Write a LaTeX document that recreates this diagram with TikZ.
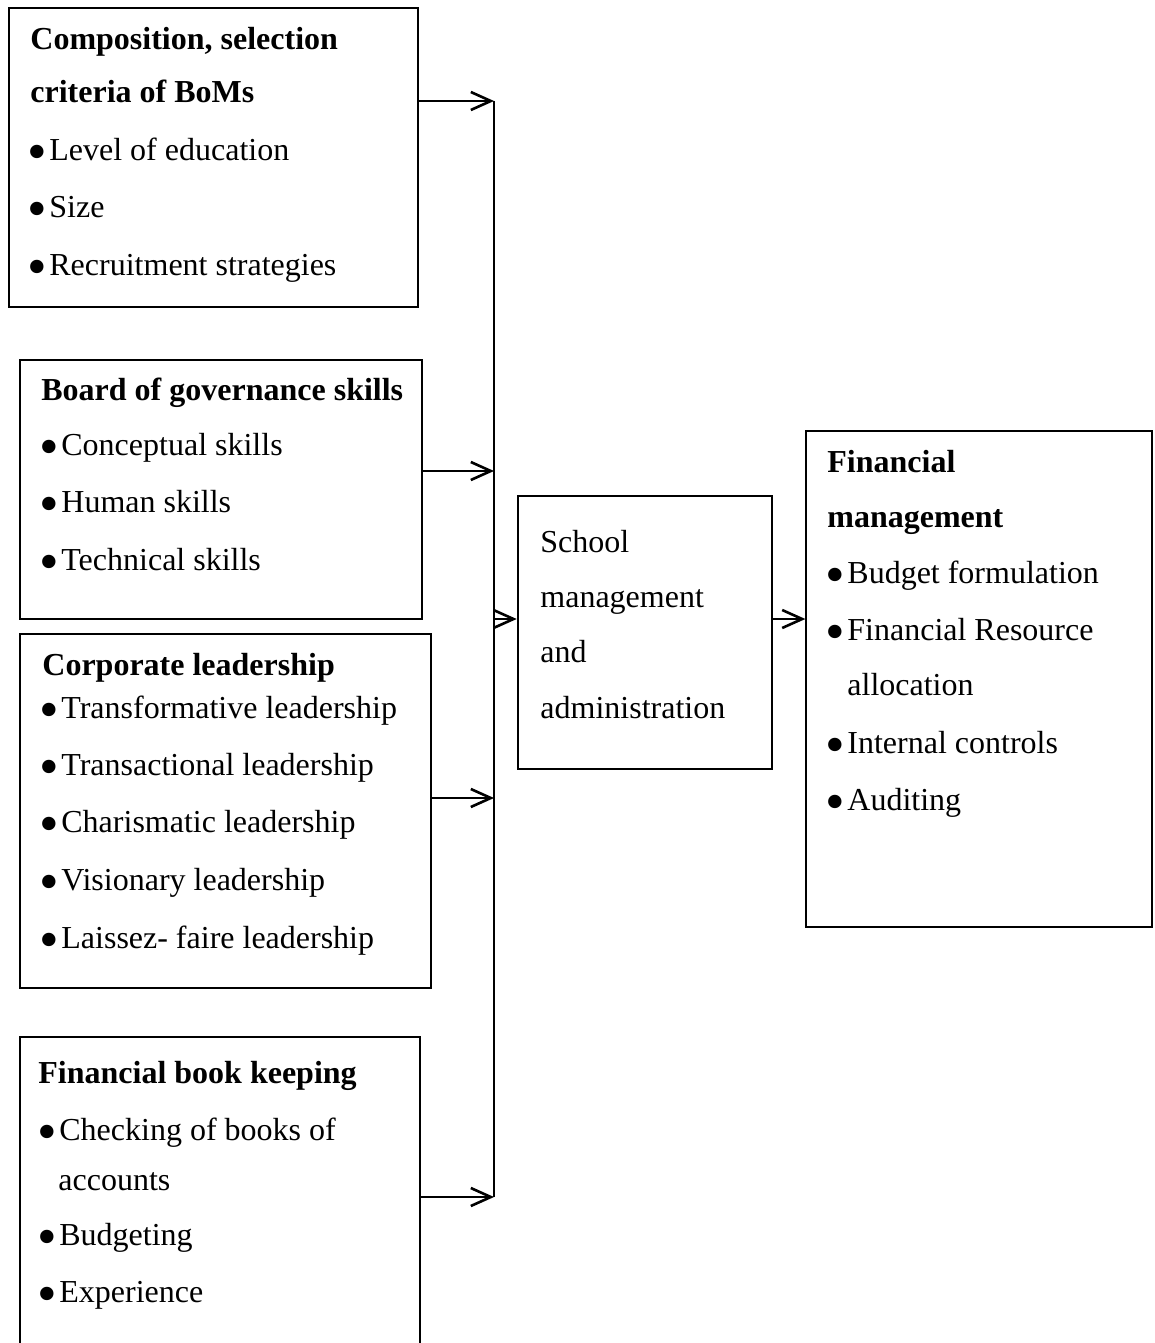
\documentclass[tikz,border=0pt]{standalone}
\usepackage{fontspec}
\setmainfont{Liberation Serif}
\usepackage{tikz}
\usetikzlibrary{arrows.meta,fit}

% large round bullet in front of a list entry
\newcommand{\bul}{\makebox[9.5pt][l]{\hspace{-1.5pt}\raisebox{-5.3pt}{\scalebox{1.75}{\textbullet}}}}

\begin{document}
\begin{tikzpicture}[x=0.5pt,y=-0.5pt,
    every node/.style={font=\fontsize{16pt}{20pt}\selectfont},
    box/.style={draw,line width=0.65pt,inner sep=0pt},
    txt/.style={anchor=base west,inner sep=0pt},
    head/.style={txt,font=\fontsize{16pt}{20pt}\selectfont\bfseries},
    arr/.style={-{Straight Barb[length=10pt,width=9pt,line width=1.3pt]},line width=1.3pt}]
  \useasboundingbox (0,0) rectangle (1155,1343);

  % boxes
  \node[box,fit={(9,8) (418,307)}] (comp) {};
  \node[box,fit={(20,360) (422,619)}] (skills) {};
  \node[box,fit={(20,634) (431,988)}] (lead) {};
  \node[box,fit={(20,1037) (420,1352)}] (books) {};
  \node[box,line width=1.3pt,fit={(518,496) (772,769)}] (school) {};
  \node[box,fit={(806,431) (1152,927)}] (fin) {};

  % composition box
  \node[head] (comp-h1) at (30,50) {Composition, selection};
  \node[head] (comp-h2) at (30,103) {criteria of BoMs};
  \foreach \y/\t [count=\i] in {160/Level of education,217/Size,275/Recruitment strategies}
    \node[txt] (comp-\i) at (30,\y) {\bul\t};

  % skills box
  \node[head] (skills-h) at (41,400) {Board of governance skills};
  \foreach \y/\t [count=\i] in {455/Conceptual skills,512/Human skills,570/Technical skills}
    \node[txt] (skills-\i) at (42,\y) {\bul\t};

  % leadership box
  \node[head] (lead-h) at (42,675) {Corporate leadership};
  \foreach \y/\t [count=\i] in {718/Transformative leadership,775/Transactional leadership,
      832/Charismatic leadership,890/Visionary leadership,948/Laissez- faire leadership}
    \node[txt] (lead-\i) at (42,\y) {\bul\t};

  % book keeping box
  \node[head] (books-h) at (38,1083) {Financial book keeping};
  \node[txt] (books-1) at (40,1140) {\bul Checking of books of};
  \node[txt] (books-1b) at (58,1190) {accounts};
  \node[txt] (books-2) at (40,1245) {\bul Budgeting};
  \node[txt] (books-3) at (40,1302) {\bul Experience};

  % middle box
  \foreach \y/\t [count=\i] in {552/School,607/management,662/and,718/administration}
    \node[txt] (school-\i) at (540,\y) {\t};

  % financial management box
  \node[head] (fin-h1) at (827,472) {Financial};
  \node[head] (fin-h2) at (827,527) {management};
  \node[txt] (fin-1) at (828,583) {\bul Budget formulation};
  \node[txt] (fin-2) at (828,640) {\bul Financial Resource};
  \node[txt] (fin-2b) at (847,695) {allocation};
  \node[txt] (fin-3) at (828,753) {\bul Internal controls};
  \node[txt] (fin-4) at (828,810) {\bul Auditing};

  % collecting line
  \coordinate (j1) at (494,101);
  \coordinate (j2) at (494,471);
  \coordinate (j3) at (494,619);
  \coordinate (j4) at (494,798);
  \coordinate (j5) at (494,1197);
  \draw[line width=0.65pt] (j1) -- (j5);

  \draw[arr] (comp.east |- j1) -- (j1);
  \draw[arr] (skills.east |- j2) -- (j2);
  \draw[arr] (lead.east |- j4) -- (j4);
  \draw[arr] (books.east |- j5) -- (j5);
  \draw[arr] (j3) -- (school.west |- j3);
  \draw[arr] (school.east |- j3) -- (fin.west |- j3);
\end{tikzpicture}
\end{document}
